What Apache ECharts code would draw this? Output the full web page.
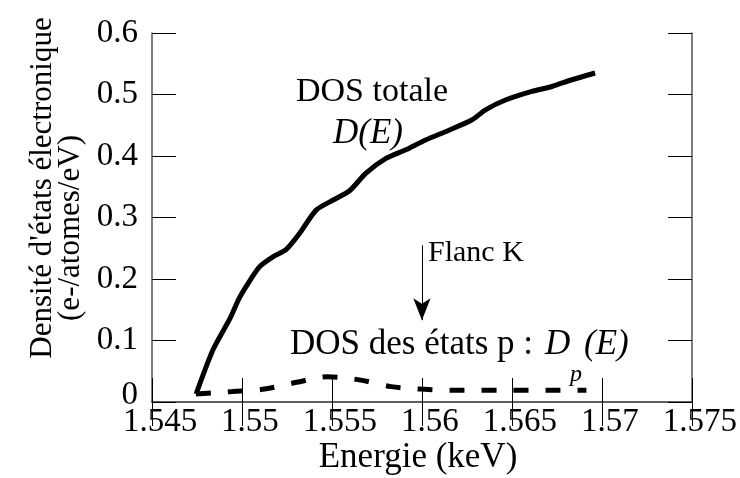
<!DOCTYPE html>
<html><head><meta charset="utf-8">
<script src="https://cdn.jsdelivr.net/npm/echarts@6/dist/echarts.min.js"></script>
<style>html,body{margin:0;padding:0;background:#fff}#c{width:740px;height:478px}</style>
</head><body><div id="c"></div>
<script>
// Total DOS D(E)
const energyTotal = [1.54745, 1.54839, 1.54932, 1.54987, 1.55052, 1.55098, 1.55172, 1.55246, 1.55320, 1.55412, 1.55504, 1.55596, 1.55689, 1.55800, 1.55910, 1.56020, 1.56150, 1.56279, 1.56353, 1.56464, 1.56611, 1.56722, 1.56833, 1.56962];
const dosTotal    = [0.013,   0.085,   0.135,   0.170,   0.201,   0.220,   0.236,   0.248,   0.274,   0.312,   0.328,   0.343,   0.372,   0.396,   0.410,   0.426,   0.442,   0.459,   0.475,   0.491,   0.505,   0.513,   0.524,   0.535];
// p-states DOS Dp(E)
const energyP = [1.54744, 1.54948, 1.55126, 1.55303, 1.55475, 1.55652, 1.55829, 1.55995, 1.56172, 1.56427, 1.56693, 1.56914];
const dosP    = [0.013,   0.017,   0.021,   0.032,   0.041,   0.036,   0.025,   0.021,   0.019,   0.019,   0.019,   0.019];
// K edge
const flancKEnergy = 1.56;
const flancKFrom = 0.255;
const flancKTo = 0.133;
// axes
const xMin = 1.545, xMax = 1.575, xStep = 0.005;
const yMin = 0, yMax = 0.6, yStep = 0.1;

const FONT = '"Liberation Serif", "Times New Roman", serif';
const chart = echarts.init(document.getElementById('c'));
const axisLine = {show: true, lineStyle: {color: '#555', width: 1.5}};
const tickIn = {show: true, inside: true, length: 24, lineStyle: {color: '#000', width: 1}};
const fmtX = v => v.toFixed(3).replace(/0+$/, '');
const fmtY = v => Math.abs(v) < 1e-9 ? '{z|0}' : v.toFixed(1);

chart.setOption({
  animation: false,
  backgroundColor: '#fff',
  grid: {left: 152, right: 46, top: 33, bottom: 76},
  xAxis: [
    {type: 'value', min: xMin, max: xMax, interval: xStep, position: 'bottom',
     axisLine, axisTick: tickIn, splitLine: {show: false},
     axisLabel: {formatter: fmtX, color: '#000', fontFamily: FONT, fontSize: 33, margin: 4, padding: [0, 0, 0, 16]}},
    {type: 'value', min: xMin, max: xMax, interval: xStep, position: 'top',
     axisLine, axisTick: tickIn, splitLine: {show: false}, axisLabel: {show: false}}
  ],
  yAxis: [
    {type: 'value', min: yMin, max: yMax, interval: yStep, position: 'left',
     axisLine, axisTick: tickIn, splitLine: {show: false},
     axisLabel: {formatter: fmtY, color: '#000', fontFamily: FONT, fontSize: 33, margin: 14,
       rich: {z: {fontFamily: FONT, fontSize: 33, color: '#000', padding: [0, 0, 14, 0]}}}},
    {type: 'value', min: yMin, max: yMax, interval: yStep, position: 'right',
     axisLine, axisTick: tickIn, splitLine: {show: false}, axisLabel: {show: false}}
  ],
  series: [
    {type: 'line', name: 'D(E)', xAxisIndex: 0, yAxisIndex: 0,
     data: energyTotal.map((e, i) => [e, dosTotal[i]]),
     showSymbol: false, smooth: 0.25,
     lineStyle: {color: '#000', width: 5, cap: 'butt', join: 'round'},
     markLine: {silent: true, symbol: ['none', 'arrow'], symbolSize: [13, 22],
       lineStyle: {color: '#000', width: 1, type: 'solid'}, label: {show: false},
       data: [[{coord: [flancKEnergy, flancKFrom]}, {coord: [flancKEnergy, flancKTo]}]]}},
    {type: 'line', name: 'Dp(E)', xAxisIndex: 0, yAxisIndex: 0,
     data: energyP.map((e, i) => [e, dosP[i]]),
     showSymbol: false, smooth: 0.3, lineStyle: {color: '#000', width: 5, type: [15, 17], cap: 'butt'}}
  ],
  graphic: [
    {type: 'text', x: 43, y: 188, rotation: Math.PI / 2,
     style: {text: "Densité d'états électronique", font: '31px ' + FONT, fill: '#000', align: 'center', verticalAlign: 'middle'}},
    {type: 'text', x: 71, y: 228, rotation: Math.PI / 2,
     style: {text: '(e-/atomes/eV)', font: '31px ' + FONT, fill: '#000', align: 'center', verticalAlign: 'middle'}},
    {type: 'text', x: 418, y: 458,
     style: {text: 'Energie (keV)', font: '35px ' + FONT, fill: '#000', align: 'center', verticalAlign: 'middle'}},
    {type: 'text', x: 372, y: 92,
     style: {text: 'DOS totale', font: '34px ' + FONT, fill: '#000', align: 'center', verticalAlign: 'middle'}},
    {type: 'text', x: 368, y: 134,
     style: {text: 'D(E)', font: 'italic 35px ' + FONT, fill: '#000', align: 'center', verticalAlign: 'middle'}},
    {type: 'text', x: 428, y: 253,
     style: {text: 'Flanc K', font: '30px ' + FONT, fill: '#000', align: 'left', verticalAlign: 'middle'}},
    {type: 'text', x: 290, y: 345,
     style: {text: 'DOS des états p : ', font: '35px ' + FONT, fill: '#000', align: 'left', verticalAlign: 'middle'}},
    {type: 'text', x: 545, y: 345,
     style: {text: 'D', font: 'italic 35px ' + FONT, fill: '#000', align: 'left', verticalAlign: 'middle'}},
    {type: 'text', x: 570, y: 375,
     style: {text: 'p', font: 'italic 24px ' + FONT, fill: '#000', align: 'left', verticalAlign: 'middle'}},
    {type: 'text', x: 584, y: 345,
     style: {text: '(E)', font: 'italic 35px ' + FONT, fill: '#000', align: 'left', verticalAlign: 'middle'}}
  ]
});
</script></body></html>
